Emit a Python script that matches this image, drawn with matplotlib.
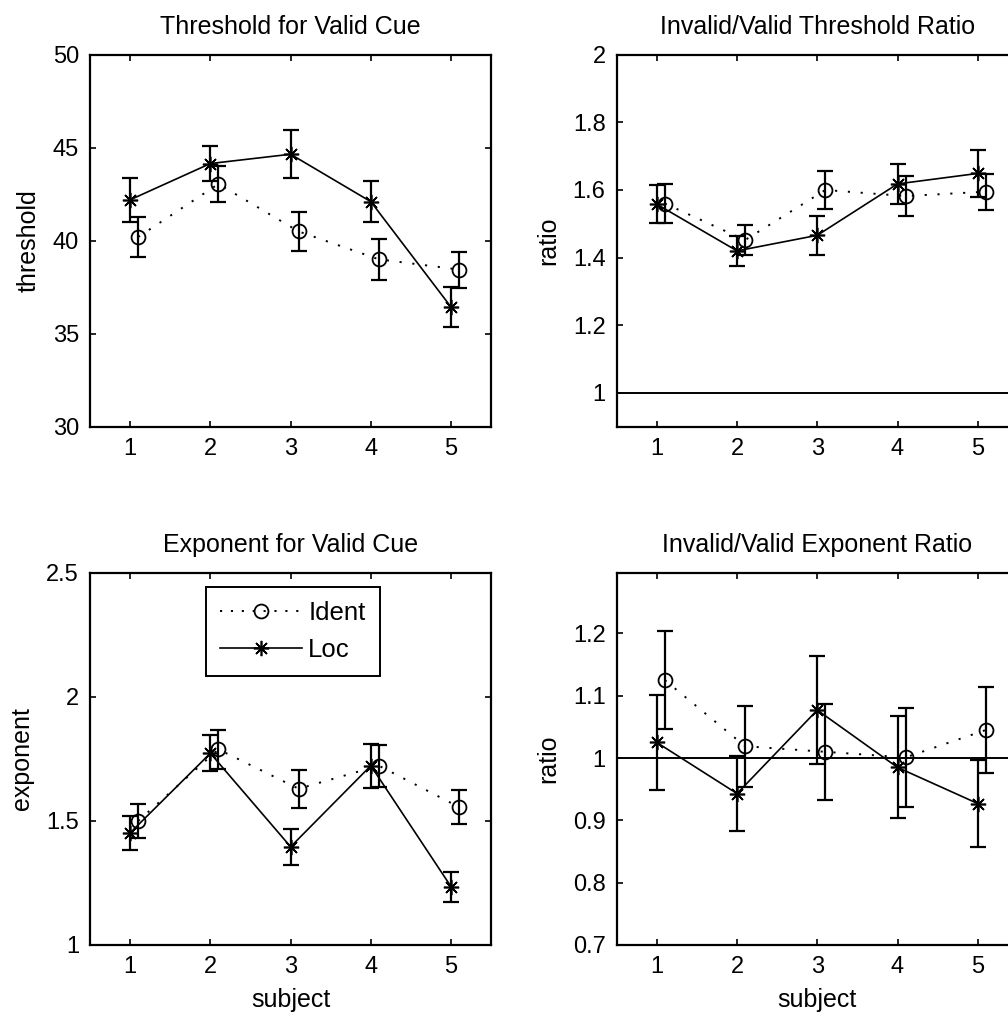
import matplotlib
matplotlib.use("Agg")
import matplotlib.pyplot as plt
from matplotlib.lines import Line2D

plt.rcParams['font.family'] = ['Liberation Sans', 'DejaVu Sans']
plt.rcParams['font.size'] = 17

subjects = [1, 2, 3, 4, 5]

# threshold, valid cue
thr_ident = [40.2, 43.05, 40.5, 39.0, 38.45]
thr_ident_err = [1.07, 0.95, 1.06, 1.1, 0.97]
thr_loc = [42.2, 44.15, 44.65, 42.1, 36.43]
thr_loc_err = [1.19, 0.93, 1.29, 1.1, 1.06]

# invalid/valid threshold ratio
thr_ratio_ident = [1.56, 1.452, 1.6, 1.582, 1.595]
thr_ratio_ident_err = [0.057, 0.045, 0.057, 0.059, 0.053]
thr_ratio_loc = [1.558, 1.42, 1.466, 1.618, 1.649]
thr_ratio_loc_err = [0.056, 0.045, 0.057, 0.058, 0.07]

# exponent, valid cue
exp_ident = [1.5, 1.789, 1.63, 1.723, 1.556]
exp_ident_err = [0.069, 0.078, 0.076, 0.085, 0.069]
exp_loc = [1.452, 1.773, 1.396, 1.723, 1.235]
exp_loc_err = [0.068, 0.073, 0.072, 0.088, 0.06]

# invalid/valid exponent ratio
exp_ratio_ident = [1.125, 1.019, 1.01, 1.001, 1.045]
exp_ratio_ident_err = [0.079, 0.065, 0.077, 0.079, 0.069]
exp_ratio_loc = [1.025, 0.943, 1.077, 0.985, 0.927]
exp_ratio_loc_err = [0.076, 0.06, 0.086, 0.082, 0.07]

x_ident = [s + 0.1 for s in subjects]

fig = plt.figure(figsize=(10.08, 10.17), dpi=100)

W, H = 0.398, 0.3658
ax1 = fig.add_axes([0.0893, 0.5804, W, H])
ax2 = fig.add_axes([0.6118, 0.5804, W, H])
ax3 = fig.add_axes([0.0893, 0.0708, W, H])
ax4 = fig.add_axes([0.6118, 0.0708, W, H])


def draw(ax, yi, ei, yl, el):
    ax.errorbar(x_ident, yi, yerr=ei, fmt='none', ecolor='k',
                elinewidth=1.6, capsize=5.5, capthick=1.6, zorder=2)
    ax.errorbar(subjects, yl, yerr=el, fmt='none', ecolor='k',
                elinewidth=1.6, capsize=5.5, capthick=1.6, zorder=2)
    ax.plot(x_ident, yi, color='k', lw=1.4, dashes=(1.1, 5.5),
            marker='o', ms=10, mfc='none', mec='k', mew=1.3, zorder=3)
    ax.plot(subjects, yl, color='k', lw=1.2, linestyle='-',
            marker=(8, 2, 0), ms=11, mec='k', mew=1.2, zorder=3)


def style(ax, title):
    ax.set_xlim(0.5, 5.5)
    ax.set_xticks(subjects)
    ax.tick_params(direction='in', top=True, right=True, length=4,
                   width=1.2, labelsize=17, pad=8)
    for sp in ax.spines.values():
        sp.set_linewidth(1.6)
    ax.set_title(title, fontsize=18, pad=15)


draw(ax1, thr_ident, thr_ident_err, thr_loc, thr_loc_err)
style(ax1, 'Threshold for Valid Cue')
ax1.set_ylim(30, 50)
ax1.set_yticks([30, 35, 40, 45, 50])
ax1.set_ylabel('threshold', fontsize=18, labelpad=9)

draw(ax2, thr_ratio_ident, thr_ratio_ident_err, thr_ratio_loc, thr_ratio_loc_err)
ax2.axhline(1, color='k', lw=1.4)
style(ax2, 'Invalid/Valid Threshold Ratio')
ax2.set_ylim(0.9, 2)
ax2.set_yticks([1, 1.2, 1.4, 1.6, 1.8, 2])
ax2.set_yticklabels(['1', '1.2', '1.4', '1.6', '1.8', '2'])
ax2.set_ylabel('ratio', fontsize=18, labelpad=9)

draw(ax3, exp_ident, exp_ident_err, exp_loc, exp_loc_err)
style(ax3, 'Exponent for Valid Cue')
ax3.set_ylim(1, 2.5)
ax3.set_yticks([1, 1.5, 2, 2.5])
ax3.set_yticklabels(['1', '1.5', '2', '2.5'])
ax3.set_ylabel('exponent', fontsize=18, labelpad=9)
ax3.set_xlabel('subject', fontsize=18, labelpad=7)
handles = [
    Line2D([], [], color='k', lw=1.4, dashes=(1.1, 4.5), marker='o', ms=10,
           mfc='none', mec='k', mew=1.3),
    Line2D([], [], color='k', lw=1.2, marker=(8, 2, 0), ms=11, mew=1.2),
]
leg = ax3.legend(handles, ['Ident', 'Loc'], loc='upper center',
                 bbox_to_anchor=(0.505, 0.963), fancybox=False, framealpha=1,
                 edgecolor='k', handlelength=3.2, handletextpad=0.25,
                 borderpad=0.55, labelspacing=0.5, fontsize=18.5,
                 borderaxespad=0)
leg.get_frame().set_linewidth(1.4)

draw(ax4, exp_ratio_ident, exp_ratio_ident_err, exp_ratio_loc, exp_ratio_loc_err)
ax4.axhline(1, color='k', lw=1.4)
style(ax4, 'Invalid/Valid Exponent Ratio')
ax4.set_ylim(0.7, 1.297)
ax4.set_yticks([0.7, 0.8, 0.9, 1, 1.1, 1.2])
ax4.set_yticklabels(['0.7', '0.8', '0.9', '1', '1.1', '1.2'])
ax4.set_ylabel('ratio', fontsize=18, labelpad=9)
ax4.set_xlabel('subject', fontsize=18, labelpad=7)

fig.savefig('out.png', dpi=100)
